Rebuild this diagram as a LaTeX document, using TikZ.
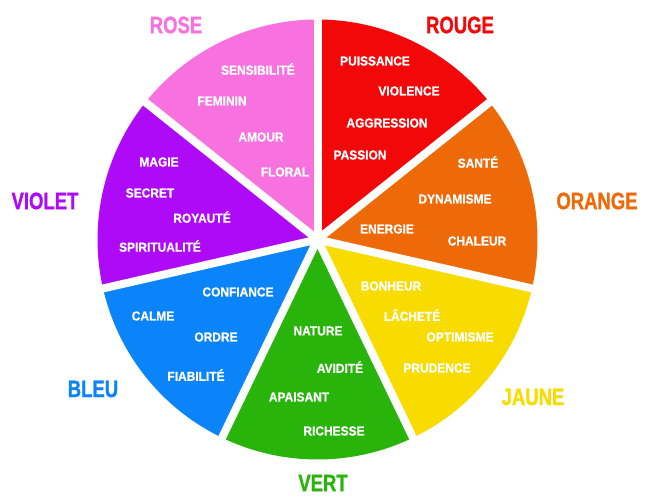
\documentclass[tikz,border=0pt]{standalone}
\usepackage{fontspec}
\setmainfont{Liberation Sans}[FakeStretch=0.92, FakeBold=0.8]
\newfontfamily\titlefont{Liberation Sans}[FakeStretch=0.78, FakeBold=1]
\definecolor{crose}{HTML}{F872DF}
\definecolor{crouge}{HTML}{F20808}
\definecolor{corange}{HTML}{EE6A08}
\definecolor{cjaune}{HTML}{F8DC00}
\definecolor{cvert}{HTML}{28B40A}
\definecolor{cbleu}{HTML}{0A84F8}
\definecolor{cviolet}{HTML}{AE0AF8}
\tikzset{
  word/.style={text=white, font=\bfseries\fontsize{13}{15}\selectfont, inner sep=0pt, anchor=center},
  title/.style={font=\titlefont\bfseries\fontsize{23.7}{26}\selectfont, inner sep=0pt, anchor=center},
  gap/.style={white, line width=8pt}
}
\begin{document}
\begin{tikzpicture}[x=1pt,y=1pt]
\useasboundingbox (0,0) rectangle (651,500);
\coordinate (c) at (317.5,260.5);
\def\R{220}
% sectors
\fill[crouge]  (c) -- ++(90:\R) arc[start angle=90, end angle=38.571, radius=\R] -- cycle;
\fill[corange] (c) -- ++(38.571:\R) arc[start angle=38.571, end angle=-12.857, radius=\R] -- cycle;
\fill[cjaune]  (c) -- ++(-12.857:\R) arc[start angle=-12.857, end angle=-64.286, radius=\R] -- cycle;
\fill[cvert]   (c) -- ++(-64.286:\R) arc[start angle=-64.286, end angle=-115.714, radius=\R] -- cycle;
\fill[cbleu]   (c) -- ++(-115.714:\R) arc[start angle=-115.714, end angle=-167.143, radius=\R] -- cycle;
\fill[cviolet] (c) -- ++(192.857:\R) arc[start angle=192.857, end angle=141.429, radius=\R] -- cycle;
\fill[crose]   (c) -- ++(141.429:\R) arc[start angle=141.429, end angle=90, radius=\R] -- cycle;
% gaps
\foreach \a in {90,38.571,-12.857,-64.286,-115.714,-167.143,141.429}
  \draw[gap] (c) -- ++(\a:\R+6);
% titles
\node[title, text=crose]   (trose)   at (176,475) {ROSE};
\node[title, text=crouge]  (trouge)  at (460,475) {ROUGE};
\node[title, text=corange] (torange) at (597,299) {ORANGE};
\node[title, text=cjaune]  (tjaune)  at (533,103) {JAUNE};
\node[title, text=cvert]   (tvert)   at (323,17)  {VERT};
\node[title, text=cbleu]   (tbleu)   at (93,111)  {BLEU};
\node[title, text=cviolet] (tviolet) at (45,299)  {VIOLET};
% rose
\node[word] (w1) at (258,431) {SENSIBILITÉ};
\node[word] (w2) at (222,399) {FEMININ};
\node[word] (w3) at (261,363) {AMOUR};
\node[word] (w4) at (285,328) {FLORAL};
% violet
\node[word] (w5) at (159,338) {MAGIE};
\node[word] (w6) at (150,307) {SECRET};
\node[word] (w7) at (202,283) {ROYAUTÉ};
\node[word] (w8) at (160,254) {SPIRITUALITÉ};
% rouge
\node[word] (w9)  at (375,439) {PUISSANCE};
\node[word] (w10) at (409,409) {VIOLENCE};
\node[word] (w11) at (387,377) {AGGRESSION};
\node[word] (w12) at (360,345) {PASSION};
% orange
\node[word] (w13) at (478,338) {SANTÉ};
\node[word] (w14) at (455,301) {DYNAMISME};
\node[word] (w15) at (387,271) {ENERGIE};
\node[word] (w16) at (477,259) {CHALEUR};
% jaune
\node[word] (w17) at (391,214) {BONHEUR};
\node[word] (w18) at (412,185) {LÂCHETÉ};
\node[word] (w19) at (460,163) {OPTIMISME};
\node[word] (w20) at (437,132) {PRUDENCE};
% vert
\node[word] (w21) at (318,169) {NATURE};
\node[word] (w22) at (340,133) {AVIDITÉ};
\node[word] (w23) at (299,103) {APAISANT};
\node[word] (w24) at (334,69)  {RICHESSE};
% bleu
\node[word] (w25) at (238,208) {CONFIANCE};
\node[word] (w26) at (153,184) {CALME};
\node[word] (w27) at (216,163) {ORDRE};
\node[word] (w28) at (196,125) {FIABILITÉ};
\end{tikzpicture}
\end{document}
